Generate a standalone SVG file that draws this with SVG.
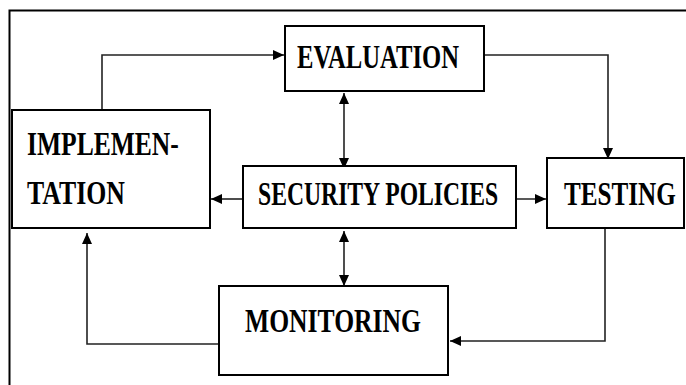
<svg xmlns="http://www.w3.org/2000/svg" width="686" height="385" viewBox="0 0 686 385">
<style>
.box{fill:#fff;stroke:#000;stroke-width:2}
.lbl{font-family:"Liberation Serif","Times New Roman",serif;font-weight:bold;font-size:34px;fill:#000}
.con{fill:none;stroke:#222;stroke-width:1.6}
</style>
<defs>
<marker id="ah" markerUnits="userSpaceOnUse" markerWidth="12" markerHeight="12" viewBox="0 0 12 12" refX="11" refY="6" orient="auto-start-reverse">
<path d="M0,1 L11,6 L0,11 Z" fill="#000"/>
</marker>
</defs>
<rect width="686" height="385" fill="#fff"/>
<path d="M9.5,385 V10.5 H686" fill="none" stroke="#000" stroke-width="2"/>
<g id="connectors">
<path class="con" d="M102,112 V55 H284" marker-end="url(#ah)"/>
<path class="con" d="M475,55 H608 V159" marker-end="url(#ah)"/>
<path class="con" d="M344,93 V169" marker-start="url(#ah)" marker-end="url(#ah)"/>
<path class="con" d="M344,231 V286" marker-start="url(#ah)" marker-end="url(#ah)"/>
<path class="con" d="M243,199 H211" marker-end="url(#ah)"/>
<path class="con" d="M510,199 H546" marker-end="url(#ah)"/>
<path class="con" d="M219,344 H87 V233" marker-end="url(#ah)"/>
<path class="con" d="M605,228 V341 H450" marker-end="url(#ah)"/>
</g>
<g id="evaluation">
<rect class="box" x="285" y="26" width="199" height="65"/>
<text class="lbl" transform="translate(297,68) scale(0.73,1)" textLength="222" lengthAdjust="spacingAndGlyphs">EVALUATION</text>
</g>
<g id="implementation">
<rect class="box" x="12" y="110" width="198" height="118"/>
<text class="lbl" transform="translate(27,155) scale(0.73,1)" textLength="208" lengthAdjust="spacingAndGlyphs">IMPLEMEN-</text>
<text class="lbl" transform="translate(27,204) scale(0.73,1)" textLength="134" lengthAdjust="spacingAndGlyphs">TATION</text>
</g>
<g id="security-policies">
<rect class="box" x="243" y="166" width="273" height="62"/>
<text class="lbl" transform="translate(258,205) scale(0.73,1)" textLength="329" lengthAdjust="spacingAndGlyphs">SECURITY POLICIES</text>
</g>
<g id="testing">
<rect class="box" x="547" y="158" width="137" height="70"/>
<text class="lbl" transform="translate(564,205) scale(0.73,1)" textLength="153" lengthAdjust="spacingAndGlyphs">TESTING</text>
</g>
<g id="monitoring">
<rect class="box" x="219" y="286" width="229" height="89"/>
<text class="lbl" transform="translate(245,332) scale(0.73,1)" textLength="241" lengthAdjust="spacingAndGlyphs">MONITORING</text>
</g>
</svg>
